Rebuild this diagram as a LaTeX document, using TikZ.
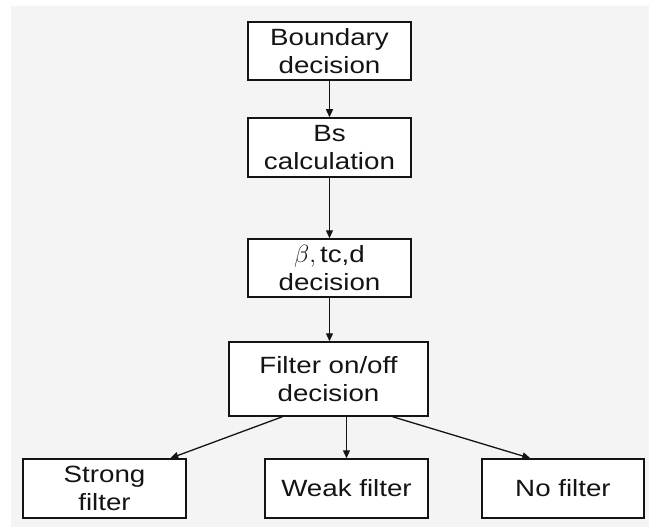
\documentclass[tikz,border=0pt]{standalone}
\usepackage{fontspec}
\setmainfont{Liberation Sans}[FakeStretch=1.18]
\usetikzlibrary{arrows.meta,calc}
\definecolor{bggrey}{HTML}{F4F4F4}
\definecolor{ink}{HTML}{141414}
\begin{document}
\begin{tikzpicture}[x=1pt,y=-1pt,
  box/.style={draw=ink,line width=1.5pt,fill=white,inner sep=0pt,align=center,
    font=\fontsize{23.5}{27.5}\selectfont,text=ink},
  conn/.style={draw=ink,line width=1.3pt,-{Triangle[length=8pt,width=7pt]}}]
\useasboundingbox (0,0) rectangle (649,527);
\fill[bggrey] (11,6) rectangle (649,527);
\node[box,minimum width=163pt,minimum height=58pt] (bd) at (329.5,51) {Boundary\\decision};
\node[box,minimum width=163pt,minimum height=59pt] (bs) at (329.5,147.5) {Bs\\calculation};
\node[box,minimum width=163pt,minimum height=58pt] (beta) at (329.5,268) {$\beta,$\,tc,d\\decision};
\node[box,minimum width=199pt,minimum height=74pt] (filt) at (328.5,379) {Filter on/off\\decision};
\node[box,minimum width=163pt,minimum height=59pt] (strong) at (104.5,488.5) {Strong\\filter};
\node[box,minimum width=163pt,minimum height=59pt] (weak) at (346.5,488.5) {Weak filter};
\node[box,minimum width=162pt,minimum height=59pt] (none) at (563,488.5) {No filter};
\coordinate (fl) at ($(filt.south west)!0.27!(filt.south east)$);
\coordinate (fr) at ($(filt.south west)!0.82!(filt.south east)$);
\coordinate (sl) at ($(strong.north west)!0.90!(strong.north east)$);
\coordinate (nr) at ($(none.north west)!0.30!(none.north east)$);
\draw[conn] (bd) -- (bs);
\draw[conn] (bs) -- (beta);
\draw[conn] (beta.south) -- (beta.south |- filt.north);
\draw[conn] (fl) -- (sl);
\draw[conn] (filt.south -| weak.north) -- (weak.north);
\draw[conn] (fr) -- (nr);
\end{tikzpicture}
\end{document}
